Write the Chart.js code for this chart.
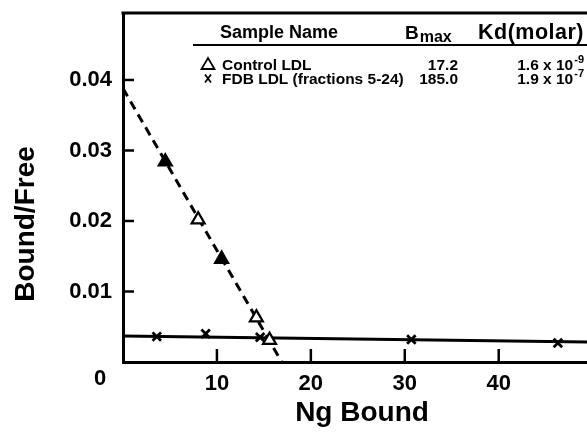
<!DOCTYPE html>
<html>
<head>
<meta charset="utf-8">
<script src="https://cdn.jsdelivr.net/npm/chart.js@4/dist/chart.umd.min.js"></script>
<style>
html,body{margin:0;padding:0;background:#fff;overflow:hidden;}
#wrap{width:587px;height:439px;position:relative;}
</style>
</head>
<body>
<div id="wrap"><canvas id="c" width="587" height="439"></canvas></div>
<script>
// ---- data ----
const controlX = [4.5, 8.0, 10.5, 14.2, 15.6];
const controlY = [0.0284, 0.0202, 0.0146, 0.0063, 0.0031];
const controlFill = ['#000', '#fff', '#000', '#fff', '#fff'];
const controlFitX = [0, 16.9];
const controlFitY = [0.0388, 0];
const fdbX = [3.6, 8.8, 14.6, 30.7, 46.3];
const fdbY = [0.0036, 0.0040, 0.0035, 0.0032, 0.0027];
const fdbFitX = [0, 49.4];
const fdbFitY = [0.0037, 0.00285];
const xTicks = [10, 20, 30, 40];
const yTicks = [0.01, 0.02, 0.03, 0.04];
const xTitle = 'Ng Bound';
const yTitle = 'Bound/Free';
const tableHeader = ['Sample Name', 'B', 'max', 'Kd(molar)'];
const sampleNames = ['Control LDL', 'FDB LDL (fractions 5-24)'];
const bmaxValues = ['17.2', '185.0'];
const kdMantissa = ['1.6 x 10', '1.9 x 10'];
const kdExponent = ['-9', '-7'];

const pts = (xs, ys) => xs.map((x, i) => ({x, y: ys[i]}));
const FONT = '"Liberation Sans", Arial, Helvetica, sans-serif';

const decor = {
  id: 'decor',
  afterDraw(chart) {
    const ctx = chart.ctx;
    const a = chart.chartArea;
    const xs = chart.scales.x, ys = chart.scales.y;
    ctx.save();
    ctx.strokeStyle = '#000';
    ctx.fillStyle = '#000';
    // top border
    ctx.lineWidth = 3;
    ctx.beginPath(); ctx.moveTo(a.left - 1.5, a.top); ctx.lineTo(a.right, a.top); ctx.stroke();
    // inward ticks
    ctx.lineWidth = 2.5;
    yTicks.forEach(v => {
      const y = ys.getPixelForValue(v);
      ctx.beginPath(); ctx.moveTo(a.left, y); ctx.lineTo(a.left + 11, y); ctx.stroke();
    });
    xTicks.forEach(v => {
      const x = xs.getPixelForValue(v);
      ctx.beginPath(); ctx.moveTo(x, a.bottom); ctx.lineTo(x, a.bottom - 13); ctx.stroke();
    });
    // corner zero
    ctx.font = 'bold 22px ' + FONT;
    ctx.textAlign = 'center'; ctx.textBaseline = 'middle';
    ctx.fillText('0', xs.getPixelForValue(0) - 23, ys.getPixelForValue(0) + 17);

    // axis titles
    ctx.font = 'bold 28px ' + FONT;
    ctx.textAlign = 'center'; ctx.textBaseline = 'alphabetic';
    ctx.fillText(xTitle, 362, 421);
    ctx.save();
    ctx.translate(34, 224);
    ctx.rotate(-Math.PI / 2);
    ctx.fillText(yTitle, 0, 0);
    ctx.restore();

    // legend table
    ctx.textBaseline = 'alphabetic';
    ctx.font = 'bold 18px ' + FONT;
    ctx.textAlign = 'left';
    ctx.fillText(tableHeader[0], 220, 38);
    ctx.font = 'bold 19px ' + FONT;
    ctx.fillText(tableHeader[1], 405, 39);
    const bw = ctx.measureText(tableHeader[1]).width;
    ctx.font = 'bold 16px ' + FONT;
    ctx.fillText(tableHeader[2], 405 + bw + 1, 42);
    ctx.font = 'bold 21.5px ' + FONT;
    ctx.letterSpacing = '0.5px';
    const kw = ctx.measureText(tableHeader[3]).width;
    ctx.fillText(tableHeader[3], 584 - kw, 39);
    ctx.letterSpacing = '0px';
    ctx.lineWidth = 2;
    ctx.beginPath(); ctx.moveTo(193, 45); ctx.lineTo(587, 45); ctx.stroke();

    const rowsY = [69.5, 83.5];
    ctx.font = 'bold 15.5px ' + FONT;
    sampleNames.forEach((n, i) => {
      const by = rowsY[i];
      ctx.textAlign = 'left';
      ctx.fillText(n, 222, by);
      ctx.textAlign = 'right';
      ctx.fillText(bmaxValues[i], 458, by);
    });
    // kd with superscripts
    kdMantissa.forEach((m, i) => {
      const by = rowsY[i];
      ctx.font = 'bold 11px ' + FONT;
      const ew = ctx.measureText(kdExponent[i]).width;
      ctx.textAlign = 'right';
      ctx.fillText(kdExponent[i], 584, by - 7);
      ctx.font = 'bold 15.5px ' + FONT;
      ctx.fillText(m, 584 - ew - 1, by);
    });
    // legend markers
    ctx.lineWidth = 1.8;
    ctx.beginPath();
    ctx.moveTo(208, 58); ctx.lineTo(214.5, 69); ctx.lineTo(201.5, 69); ctx.closePath(); ctx.stroke();
    ctx.beginPath();
    ctx.moveTo(205, 74.5); ctx.lineTo(211, 82.5); ctx.moveTo(211, 74.5); ctx.lineTo(205, 82.5); ctx.stroke();
    ctx.restore();
  }
};

new Chart(document.getElementById('c'), {
  type: 'scatter',
  data: {
    datasets: [
      { type: 'line', data: pts(controlFitX, controlFitY), borderColor: '#000', borderWidth: 3,
        borderDash: [9, 6], pointRadius: 0, fill: false, order: 3 },
      { type: 'line', data: pts(fdbFitX, fdbFitY), borderColor: '#000', borderWidth: 3,
        pointRadius: 0, fill: false, order: 3 },
      { data: pts(controlX, controlY), pointStyle: 'triangle', pointRadius: 7.5,
        pointBorderWidth: 2.2, borderColor: '#000', pointBackgroundColor: controlFill, order: 1 },
      { data: pts(fdbX, fdbY), pointStyle: 'crossRot', pointRadius: 6,
        pointBorderWidth: 2.8, borderColor: '#000', order: 1 }
    ]
  },
  options: {
    responsive: false,
    animation: false,
    events: [],
    layout: { autoPadding: false, padding: { top: 13, right: 0, left: 0, bottom: 0 } },
    plugins: { legend: { display: false }, tooltip: { enabled: false } },
    scales: {
      x: {
        type: 'linear', min: 0, max: 49.4,
        afterBuildTicks: s => { s.ticks = xTicks.map(v => ({value: v})); },
        afterFit: s => { s.height = 77; s.paddingLeft = 0; s.paddingRight = 0; },
        grid: { display: false, drawTicks: false },
        border: { display: true, color: '#000', width: 3 },
        ticks: { color: '#000', padding: 9, maxRotation: 0, autoSkip: false,
          font: { family: FONT, size: 22, weight: 'bold' } },
        title: { display: false }
      },
      y: {
        type: 'linear', min: 0, max: 0.0495,
        afterBuildTicks: s => { s.ticks = yTicks.map(v => ({value: v})); },
        afterFit: s => { s.width = 123; s.paddingTop = 0; s.paddingBottom = 0; },
        grid: { display: false, drawTicks: false },
        border: { display: true, color: '#000', width: 3 },
        ticks: { color: '#000', padding: 11, autoSkip: false,
          callback: v => v.toFixed(2),
          font: { family: FONT, size: 22, weight: 'bold' } },
        title: { display: false }
      }
    }
  },
  plugins: [decor]
});
</script>
</body>
</html>
